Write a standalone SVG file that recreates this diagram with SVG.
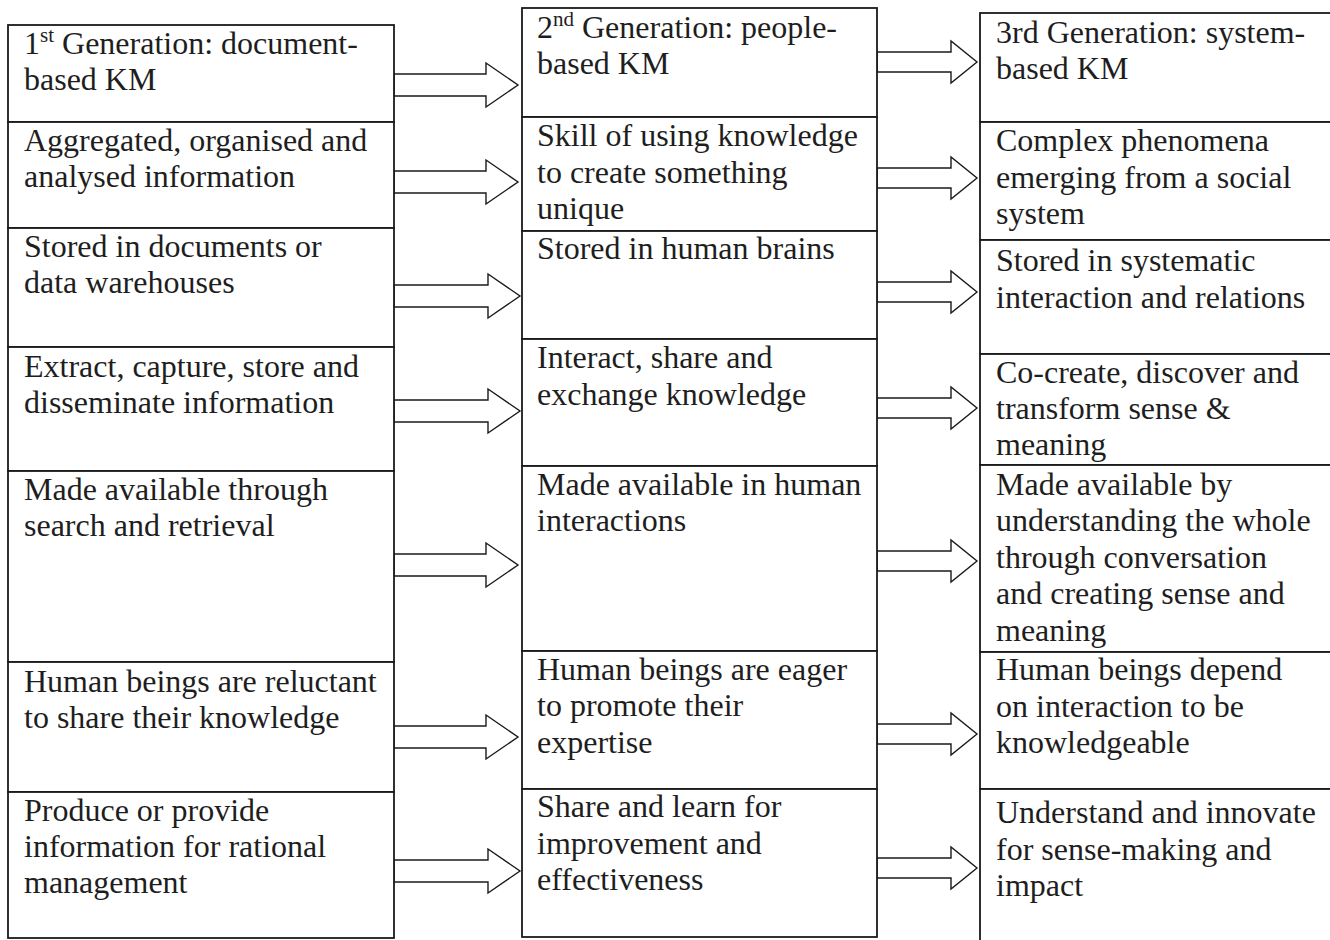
<svg xmlns="http://www.w3.org/2000/svg" width="1330" height="940" viewBox="0 0 1330 940">
<defs>
<style>
.box{fill:#fff;stroke:#1a1a1a;stroke-width:1.8}
.t{font-family:"Liberation Serif","Times New Roman",serif;font-size:32px;fill:#1e1e1e}
.sup{font-size:21px}
.arr{fill:#fff;stroke:#1a1a1a;stroke-width:1.4;stroke-linejoin:miter}
</style>
</defs>
<rect width="1330" height="940" fill="#fff"/>
<g id="connectors">
<polygon class="arr" points="394,74 486,74 486,63 518,85 486,107 486,96 394,96"/>
<polygon class="arr" points="394,171 486,171 486,160 518,182 486,204 486,193 394,193"/>
<polygon class="arr" points="394,285 488,285 488,274 520,296 488,318 488,307 394,307"/>
<polygon class="arr" points="394,400 488,400 488,389 520,411 488,433 488,422 394,422"/>
<polygon class="arr" points="394,554 486,554 486,543 518,565 486,587 486,576 394,576"/>
<polygon class="arr" points="394,726 486,726 486,715 518,737 486,759 486,748 394,748"/>
<polygon class="arr" points="394,860 488,860 488,849 520,871 488,893 488,882 394,882"/>
<polygon class="arr" points="877,52 951,52 951,41 977,62 951,83 951,72 877,72"/>
<polygon class="arr" points="877,168 951,168 951,157 977,178 951,199 951,188 877,188"/>
<polygon class="arr" points="877,282 951,282 951,271 977,292 951,313 951,302 877,302"/>
<polygon class="arr" points="877,398 951,398 951,387 977,408 951,429 951,418 877,418"/>
<polygon class="arr" points="877,551 951,551 951,540 977,561 951,582 951,571 877,571"/>
<polygon class="arr" points="877,724 951,724 951,713 977,734 951,755 951,744 877,744"/>
<polygon class="arr" points="877,858 951,858 951,847 977,868 951,889 951,878 877,878"/>
</g>
<g id="c1r1"><rect class="box" x="8" y="25" width="386" height="97"/><text class="t" x="24" y="54">1<tspan class="sup" dy="-12">st</tspan><tspan dy="12"> Generation: document-</tspan></text><text class="t" x="24" y="90">based KM</text></g>
<g id="c1r2"><rect class="box" x="8" y="122" width="386" height="106"/><text class="t" x="24" y="151">Aggregated, organised and</text><text class="t" x="24" y="187">analysed information</text></g>
<g id="c1r3"><rect class="box" x="8" y="228" width="386" height="119"/><text class="t" x="24" y="257">Stored in documents or</text><text class="t" x="24" y="293">data warehouses</text></g>
<g id="c1r4"><rect class="box" x="8" y="347" width="386" height="124"/><text class="t" x="24" y="377">Extract, capture, store and</text><text class="t" x="24" y="413">disseminate information</text></g>
<g id="c1r5"><rect class="box" x="8" y="471" width="386" height="191"/><text class="t" x="24" y="500">Made available through</text><text class="t" x="24" y="536">search and retrieval</text></g>
<g id="c1r6"><rect class="box" x="8" y="662" width="386" height="130"/><text class="t" x="24" y="692">Human beings are reluctant</text><text class="t" x="24" y="728">to share their knowledge</text></g>
<g id="c1r7"><rect class="box" x="8" y="792" width="386" height="146"/><text class="t" x="24" y="821">Produce or provide</text><text class="t" x="24" y="857">information for rational</text><text class="t" x="24" y="893">management</text></g>
<g id="c2r1"><rect class="box" x="522" y="8" width="355" height="109"/><text class="t" x="537" y="38">2<tspan class="sup" dy="-12">nd</tspan><tspan dy="12"> Generation: people-</tspan></text><text class="t" x="537" y="74">based KM</text></g>
<g id="c2r2"><rect class="box" x="522" y="117" width="355" height="114"/><text class="t" x="537" y="146">Skill of using knowledge</text><text class="t" x="537" y="183">to create something</text><text class="t" x="537" y="219">unique</text></g>
<g id="c2r3"><rect class="box" x="522" y="231" width="355" height="108"/><text class="t" x="537" y="259">Stored in human brains</text></g>
<g id="c2r4"><rect class="box" x="522" y="339" width="355" height="127"/><text class="t" x="537" y="368">Interact, share and</text><text class="t" x="537" y="405">exchange knowledge</text></g>
<g id="c2r5"><rect class="box" x="522" y="466" width="355" height="185"/><text class="t" x="537" y="495">Made available in human</text><text class="t" x="537" y="531">interactions</text></g>
<g id="c2r6"><rect class="box" x="522" y="651" width="355" height="138"/><text class="t" x="537" y="680">Human beings are eager</text><text class="t" x="537" y="716">to promote their</text><text class="t" x="537" y="753">expertise</text></g>
<g id="c2r7"><rect class="box" x="522" y="789" width="355" height="148"/><text class="t" x="537" y="817">Share and learn for</text><text class="t" x="537" y="854">improvement and</text><text class="t" x="537" y="890">effectiveness</text></g>
<g id="c3r1"><rect class="box" x="980" y="13" width="360" height="109"/><text class="t" x="996" y="43">3rd Generation: system-</text><text class="t" x="996" y="79">based KM</text></g>
<g id="c3r2"><rect class="box" x="980" y="122" width="360" height="118"/><text class="t" x="996" y="151">Complex phenomena</text><text class="t" x="996" y="188">emerging from a social</text><text class="t" x="996" y="224">system</text></g>
<g id="c3r3"><rect class="box" x="980" y="240" width="360" height="114"/><text class="t" x="996" y="271">Stored in systematic</text><text class="t" x="996" y="308">interaction and relations</text></g>
<g id="c3r4"><rect class="box" x="980" y="354" width="360" height="111"/><text class="t" x="996" y="383">Co-create, discover and</text><text class="t" x="996" y="419">transform sense &amp;</text><text class="t" x="996" y="455">meaning</text></g>
<g id="c3r5"><rect class="box" x="980" y="465" width="360" height="187"/><text class="t" x="996" y="495">Made available by</text><text class="t" x="996" y="531">understanding the whole</text><text class="t" x="996" y="568">through conversation</text><text class="t" x="996" y="604">and creating sense and</text><text class="t" x="996" y="641">meaning</text></g>
<g id="c3r6"><rect class="box" x="980" y="652" width="360" height="137"/><text class="t" x="996" y="680">Human beings depend</text><text class="t" x="996" y="717">on interaction to be</text><text class="t" x="996" y="753">knowledgeable</text></g>
<g id="c3r7"><rect class="box" x="980" y="789" width="360" height="160"/><text class="t" x="996" y="823">Understand and innovate</text><text class="t" x="996" y="860">for sense-making and</text><text class="t" x="996" y="896">impact</text></g>
</svg>
